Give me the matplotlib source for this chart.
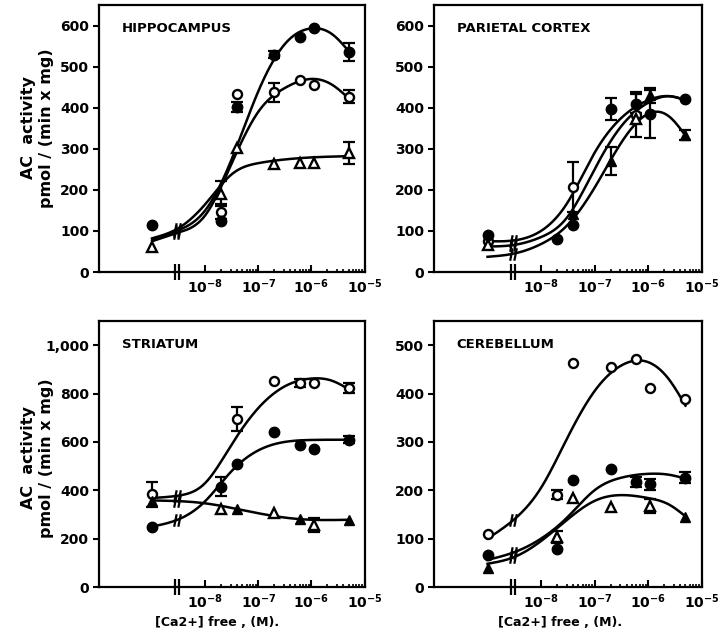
import numpy as np
import matplotlib
matplotlib.use("Agg")
import matplotlib.pyplot as plt
from matplotlib.path import Path
from matplotlib.ticker import FixedLocator, NullFormatter

# free Ca2+ concentrations (M); first one is the control, left of the axis break
conc = [1e-9, 2e-8, 4e-8, 2e-7, 6e-7, 1.1e-6, 5e-6]
brk = 3e-9
nan = np.nan

regions = ['HIPPOCAMPUS', 'PARIETAL CORTEX', 'STRIATUM', 'CEREBELLUM']

# --- measured points: filled circles, open circles, triangles (+ error) ---
hip_fc = [114, 124, 401, 529, 572, 593, 536]
hip_fc_err = [0, 0, 12, 8, 0, 0, 22]
hip_oc = [nan, 147, 434, 437, 468, 456, 427]
hip_oc_err = [0, 18, 0, 22, 0, 0, 15]
hip_tr = [61, 191, 301, 263, 265, 266, 289]
hip_tr_err = [0, 30, 0, 0, 0, 0, 27]

par_fc = [89, 81, 115, 397, 410, 385, 420]
par_fc_err = [0, 0, 0, 27, 24, 58, 0]
par_oc = [75, nan, 207, nan, 383, nan, nan]
par_oc_err = [0, 0, 60, 0, 55, 0, 0]
par_tr = [65, nan, 142, 270, 372, 430, 333]
par_tr_err = [0, 0, 0, 35, 0, 18, 12]

str_fc = [249, 415, 508, 639, 588, 571, 609]
str_fc_err = [0, 40, 0, 0, 0, 0, 15]
str_oc = [383, nan, 695, 851, 844, 844, 823]
str_oc_err = [52, 0, 48, 0, 15, 0, 20]
str_tr = [357, 322, 321, 307, 281, 256, 277]
str_tr_err = [0, 0, 0, 0, 0, 28, 0]

cer_fc = [66, 79, 221, 243, 217, 212, 226]
cer_fc_err = [0, 0, 0, 0, 10, 12, 12]
cer_oc = [109, 191, 464, 455, 472, 412, 388]
cer_oc_err = [0, 10, 0, 0, 0, 0, 0]
cer_tr = [40, 103, 183, 166, nan, 167, 145]
cer_tr_err = [0, 12, 0, 0, 0, 15, 0]

# --- fitted curves, knots (log10 conc, activity) ---
curve_x = [-9, -8.5, -8.0, -7.5, -7.0, -6.5, -6.0, -5.6, -5.3]

hip_curve_fc = [80, 102, 150, 275, 440, 555, 593, 578, 538]
hip_curve_oc = [75, 96, 138, 265, 390, 448, 470, 455, 423]
hip_curve_tr = [82, 107, 165, 238, 265, 274, 279, 281, 282]

par_curve_oc = [75, 77, 100, 170, 290, 375, 418, 428, 418]
par_curve_fc = [62, 66, 85, 135, 250, 355, 412, 428, 418]
par_curve_tr = [37, 45, 68, 115, 205, 315, 385, 378, 332]

str_curve_oc = [368, 378, 430, 590, 740, 830, 862, 852, 818]
str_curve_fc = [250, 280, 355, 480, 565, 600, 608, 609, 609]
str_curve_tr = [358, 355, 346, 327, 305, 287, 278, 277, 278]

cer_curve_oc = [100, 140, 205, 310, 405, 458, 465, 428, 375]
cer_curve_fc = [56, 72, 100, 145, 200, 226, 234, 232, 224]
cer_curve_tr = [48, 62, 95, 140, 178, 190, 184, 170, 146]

panels = [
    dict(name=regions[0], ylim=650, yticks=[0, 100, 200, 300, 400, 500, 600],
         fc=(hip_fc, hip_fc_err), oc=(hip_oc, hip_oc_err), tr=(hip_tr, hip_tr_err),
         curves=[hip_curve_fc, hip_curve_oc, hip_curve_tr], solid_tri=[]),
    dict(name=regions[1], ylim=650, yticks=[0, 100, 200, 300, 400, 500, 600],
         fc=(par_fc, par_fc_err), oc=(par_oc, par_oc_err), tr=(par_tr, par_tr_err),
         curves=[par_curve_oc, par_curve_fc, par_curve_tr], solid_tri=[2, 3, 5, 6]),
    dict(name=regions[2], ylim=1100, yticks=[0, 200, 400, 600, 800, 1000],
         fc=(str_fc, str_fc_err), oc=(str_oc, str_oc_err), tr=(str_tr, str_tr_err),
         curves=[str_curve_oc, str_curve_fc, str_curve_tr], solid_tri=[0, 2, 4, 6]),
    dict(name=regions[3], ylim=550, yticks=[0, 100, 200, 300, 400, 500],
         fc=(cer_fc, cer_fc_err), oc=(cer_oc, cer_oc_err), tr=(cer_tr, cer_tr_err),
         curves=[cer_curve_oc, cer_curve_fc, cer_curve_tr], solid_tri=[0, 6]),
]


def spline(xk, yk, xs):
    # natural cubic spline through the knots
    xk = np.asarray(xk, float); yk = np.asarray(yk, float)
    n = len(xk); h = np.diff(xk)
    A = np.zeros((n, n)); r = np.zeros(n)
    A[0, 0] = A[-1, -1] = 1
    for i in range(1, n - 1):
        A[i, i - 1] = h[i - 1]; A[i, i] = 2 * (h[i - 1] + h[i]); A[i, i + 1] = h[i]
        r[i] = 3 * ((yk[i + 1] - yk[i]) / h[i] - (yk[i] - yk[i - 1]) / h[i - 1])
    c = np.linalg.solve(A, r)
    b = (yk[1:] - yk[:-1]) / h - h * (2 * c[:-1] + c[1:]) / 3
    d = (c[1:] - c[:-1]) / (3 * h)
    i = np.clip(np.searchsorted(xk, xs) - 1, 0, n - 2)
    dx = xs - xk[i]
    return yk[i] + b[i] * dx + c[i] * dx ** 2 + d[i] * dx ** 3


# two short parallel strokes used as the break symbol
slash = Path([(-1.6, -3), (-0.4, 3), (0.4, -3), (1.6, 3)],
             [Path.MOVETO, Path.LINETO, Path.MOVETO, Path.LINETO])
vbars = Path([(-0.7, -3), (-0.7, 3), (0.7, -3), (0.7, 3)],
             [Path.MOVETO, Path.LINETO, Path.MOVETO, Path.LINETO])

plt.rcParams['font.family'] = 'DejaVu Sans'
plt.rcParams['font.weight'] = 'bold'
plt.rcParams['mathtext.default'] = 'bf'

fig = plt.figure(figsize=(7.2, 6.32), dpi=100)
rects = [[0.1375, 0.5696, 0.3694, 0.4225], [0.6028, 0.5696, 0.3722, 0.4225],
         [0.1375, 0.0712, 0.3694, 0.4209], [0.6028, 0.0712, 0.3722, 0.4209]]

x = np.array(conc)
lw = 1.8
for p, rect in zip(panels, rects):
    ax = fig.add_axes(rect)
    ax.set_xscale('log')
    ax.set_xlim(1e-10, 1.02e-5)
    ax.set_ylim(0, p['ylim'])

    # fitted curves
    xs = np.linspace(curve_x[0], curve_x[-1], 300)
    for cy in p['curves']:
        ys = spline(curve_x, cy, xs)
        ax.plot(10 ** xs, ys, color='black', lw=lw, zorder=2)
        yb = spline(curve_x, cy, np.array([np.log10(brk)]))
        ax.plot([brk], yb, marker=slash, ms=9, mew=1.6, color='black', ls='none', zorder=2)

    # error bars
    for key in ['fc', 'oc', 'tr']:
        vals, err = p[key]
        vals = np.array(vals, float); err = np.array(err, float)
        m = err > 0
        if m.any():
            ax.errorbar(x[m], vals[m], yerr=err[m], fmt='none', ecolor='black',
                        elinewidth=1.6, capsize=4, capthick=1.6, zorder=3)

    fc = np.array(p['fc'][0], float)
    oc = np.array(p['oc'][0], float)
    tr = np.array(p['tr'][0], float)
    ax.plot(x, oc, 'o', ms=6.5, mfc='white', mec='black', mew=1.7, zorder=4)
    ax.plot(x, fc, 'o', ms=7.5, mfc='black', mec='black', zorder=5)
    solid = np.zeros(len(tr), bool); solid[p['solid_tri']] = True
    ax.plot(x[~solid], tr[~solid], '^', ms=6.5, mfc='white', mec='black', mew=1.7, zorder=4)
    ax.plot(x[solid], tr[solid], '^', ms=6.5, mfc='black', mec='black', zorder=4)

    # axes styling
    for s in ax.spines.values():
        s.set_linewidth(1.6)
    ax.xaxis.set_major_locator(FixedLocator([1e-8, 1e-7, 1e-6, 1e-5]))
    minors = [k * 10.0 ** e for e in range(-8, -5) for k in range(2, 10)]
    ax.xaxis.set_minor_locator(FixedLocator(minors))
    ax.xaxis.set_minor_formatter(NullFormatter())
    ax.set_xticklabels([r'$10^{-8}$', r'$10^{-7}$', r'$10^{-6}$', r'$10^{-5}$'])
    ax.tick_params(axis='x', which='major', direction='in', length=5, width=1.5,
                   labelsize=10, pad=4)
    ax.tick_params(axis='x', which='minor', direction='in', length=2.5, width=1.2)
    ax.set_yticks(p['yticks'])
    ax.set_yticklabels([f'{v:,}' for v in p['yticks']], fontweight='bold')
    ax.tick_params(axis='y', direction='out', length=4, width=1.5, labelsize=10, pad=3)

    # axis break symbol on the bottom spine
    ax.plot([brk], [0], marker=vbars, ms=11, mew=1.6, color='black', ls='none',
            transform=ax.get_xaxis_transform(), clip_on=False, zorder=6)

    ax.text(0.085, 0.935, p['name'], transform=ax.transAxes, fontsize=9.5,
            fontweight='bold', va='top', ha='left')

ylab = 'AC  activity\npmol / (min x mg)'
fig.text(0.052, 1 - 128 / 632, ylab, rotation=90, ha='center', va='center',
         fontsize=11.5, fontweight='bold', multialignment='center', linespacing=1.2)
fig.text(0.052, 1 - 458 / 632, ylab, rotation=90, ha='center', va='center',
         fontsize=11.5, fontweight='bold', multialignment='center', linespacing=1.2)

xlab = '[Ca2+] free , (M).'
fig.text(217 / 720, 1 - 622 / 632, xlab, ha='center', va='center', fontsize=9, fontweight='bold')
fig.text(560 / 720, 1 - 622 / 632, xlab, ha='center', va='center', fontsize=9, fontweight='bold')

fig.savefig('out.png', dpi=100)
